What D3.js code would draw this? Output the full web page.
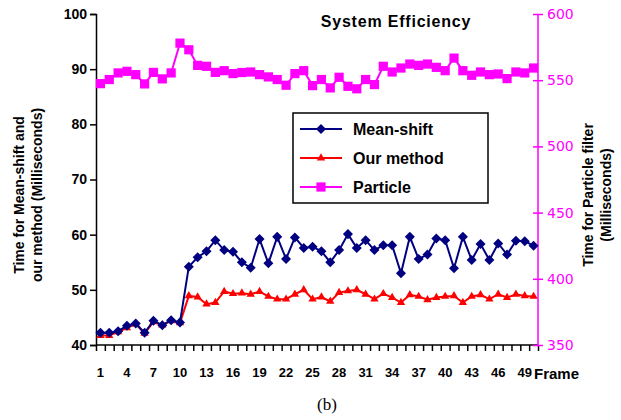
<!DOCTYPE html>
<html><head><meta charset="utf-8">
<script src="https://cdn.jsdelivr.net/npm/d3@7"></script>
<style>body{margin:0;background:#fff}svg{display:block}</style>
</head><body><svg id="c" width="621" height="420"></svg>
<script>
const frames = d3.range(1, 51);
const xTickLabels = [1,4,7,10,13,16,19,22,25,28,31,34,37,40,43,46,49];
const meanShift = [42.2,42.2,42.5,43.5,43.9,42.2,44.4,43.6,44.5,44.1,54.2,55.9,57.0,59.0,57.2,56.9,55.0,54.0,59.2,54.8,59.6,55.6,59.5,57.6,57.8,57.0,55.0,57.2,60.1,57.6,59.0,57.2,58.1,58.1,53.0,59.6,55.6,56.4,59.3,59.0,53.9,59.6,55.4,58.3,55.4,58.4,56.4,58.9,58.8,58.0];
const ourMethod = [41.7,41.7,42.4,43.1,43.8,42.1,44.2,43.6,44.4,44.0,48.9,48.7,47.4,47.7,49.7,49.3,49.4,49.2,49.7,48.8,48.3,48.3,49.2,50.0,48.3,48.7,47.9,49.5,49.8,50.0,49.2,48.3,49.3,48.6,47.7,49.1,48.8,48.2,48.6,48.8,48.9,47.7,48.8,49.1,48.3,49.2,48.6,49.2,48.9,48.8];
const particle = [547.4,550.5,555.5,556.7,554.2,547.2,555.9,551.0,555.5,578.0,573.0,561.2,560.5,555.9,557.2,555.0,555.8,556.2,554.2,552.5,550.5,546.2,555.0,557.2,545.9,550.5,544.2,552.2,545.4,543.5,550.5,546.7,560.5,556.2,559.2,562.2,561.2,562.2,559.7,557.2,566.7,557.2,553.7,556.2,554.2,554.7,551.2,556.2,555.5,559.2];
const leftTicks = [40,50,60,70,80,90,100];
const rightTicks = [350,400,450,500,550,600];
const seriesNames = ["Mean-shift","Our method","Particle"];

const svg = d3.select("#c");
const L = 96, R = 538, T = 14, B = 345;
const x = d3.scaleLinear().domain([0.5, 50.5]).range([L, R]);
const yL = d3.scaleLinear().domain([40, 100]).range([B, T]);
const yR = d3.scaleLinear().domain([350, 600]).range([B, T]);
const font = "Liberation Sans, Arial, sans-serif";

// left axis
const gL = svg.append("g").attr("transform", `translate(${L},0)`)
  .call(d3.axisLeft(yL).tickValues(leftTicks).tickSize(6).tickPadding(3));
gL.selectAll("path,line").attr("stroke", "#000").attr("stroke-width", 1.5);
gL.selectAll("text").attr("font-family", font).attr("font-weight", "bold").attr("font-size", 14).attr("fill", "#000");

// bottom axis
const gB = svg.append("g").attr("transform", `translate(0,${B})`)
  .call(d3.axisBottom(x).tickValues(d3.range(0.5, 51, 1)).tickSize(6).tickFormat(""));
gB.selectAll("path,line").attr("stroke", "#000").attr("stroke-width", 1.5);
gB.select("path").attr("d", `M${L},0H${R}`);
svg.append("g").selectAll("text").data(xTickLabels).join("text")
  .attr("x", d => x(d)).attr("y", B + 32).attr("text-anchor", "middle")
  .attr("font-family", font).attr("font-weight", "bold").attr("font-size", 13).text(d => d);
svg.append("text").attr("x", 534).attr("y", B + 34).attr("font-family", font)
  .attr("font-weight", "bold").attr("font-size", 15).text("Frame");

// right axis
const gR = svg.append("g").attr("transform", `translate(${R},0)`)
  .call(d3.axisRight(yR).tickValues(rightTicks).tickSize(5).tickPadding(4));
gR.selectAll("path,line").attr("stroke", "#ff00ff").attr("stroke-width", 1.5);
gR.selectAll(".tick line").attr("x1", -5);
gR.select("path").attr("d", `M0,${T}V${B}`);
gR.selectAll("text").attr("font-family", "DejaVu Sans, sans-serif").attr("font-size", 14).attr("fill", "#ff00ff");

// axis titles
svg.append("text").attr("transform", "translate(24,195) rotate(-90)").attr("text-anchor", "middle")
  .attr("font-family", font).attr("font-weight", "bold").attr("font-size", 14).text("Time for Mean-shift and");
svg.append("text").attr("transform", "translate(42,195) rotate(-90)").attr("text-anchor", "middle")
  .attr("font-family", font).attr("font-weight", "bold").attr("font-size", 14).text("our method (Milliseconds)");
svg.append("text").attr("transform", "translate(593,195) rotate(-90)").attr("text-anchor", "middle")
  .attr("font-family", font).attr("font-weight", "bold").attr("font-size", 14).text("Time for Particle filter");
svg.append("text").attr("transform", "translate(611,195) rotate(-90)").attr("text-anchor", "middle")
  .attr("font-family", font).attr("font-weight", "bold").attr("font-size", 14).text("(Milliseconds)");

// title
svg.append("text").attr("x", 396).attr("y", 27).attr("text-anchor", "middle")
  .attr("font-family", font).attr("font-weight", "bold").attr("font-size", 16)
  .attr("letter-spacing", 0.8).text("System Efficiency");

// caption
svg.append("text").attr("x", 327).attr("y", 410).attr("text-anchor", "middle")
  .attr("font-family", "Liberation Serif, Times New Roman, serif").attr("font-size", 17).text("(b)");

// series
const diamond = d3.symbol().type(d3.symbolDiamond2).size(64);
const tri = d3.symbol().type(d3.symbolTriangle).size(30);
const sq = d3.symbol().type(d3.symbolSquare).size(85);
const series = [
  {name: seriesNames[0], vals: meanShift, y: yL, color: "#000080", sym: diamond, w: 2},
  {name: seriesNames[1], vals: ourMethod, y: yL, color: "#ff0000", sym: tri, w: 2},
  {name: seriesNames[2], vals: particle, y: yR, color: "#ff00ff", sym: sq, w: 2}
];
series.slice().reverse().forEach(s => {
  const line = d3.line().x((d, i) => x(frames[i])).y(d => s.y(d));
  svg.append("path").datum(s.vals).attr("d", line).attr("fill", "none")
    .attr("stroke", s.color).attr("stroke-width", s.w);
  svg.append("g").selectAll("path").data(s.vals).join("path")
    .attr("transform", (d, i) => `translate(${x(frames[i])},${s.y(d)})`)
    .attr("d", s.sym).attr("fill", s.color);
});

// legend
const lg = svg.append("g");
lg.append("rect").attr("x", 293).attr("y", 113).attr("width", 195).attr("height", 90)
  .attr("fill", "#fff").attr("stroke", "#000").attr("stroke-width", 1.5);
series.forEach((s, i) => {
  const yy = 129 + i * 29;
  lg.append("line").attr("x1", 300).attr("x2", 342).attr("y1", yy).attr("y2", yy)
    .attr("stroke", s.color).attr("stroke-width", 2);
  lg.append("path").attr("transform", `translate(321,${yy})`).attr("d", s.sym).attr("fill", s.color);
  lg.append("text").attr("x", 353).attr("y", yy + 6).attr("font-family", font)
    .attr("font-weight", "bold").attr("font-size", 16).text(s.name);
});
</script></body></html>
